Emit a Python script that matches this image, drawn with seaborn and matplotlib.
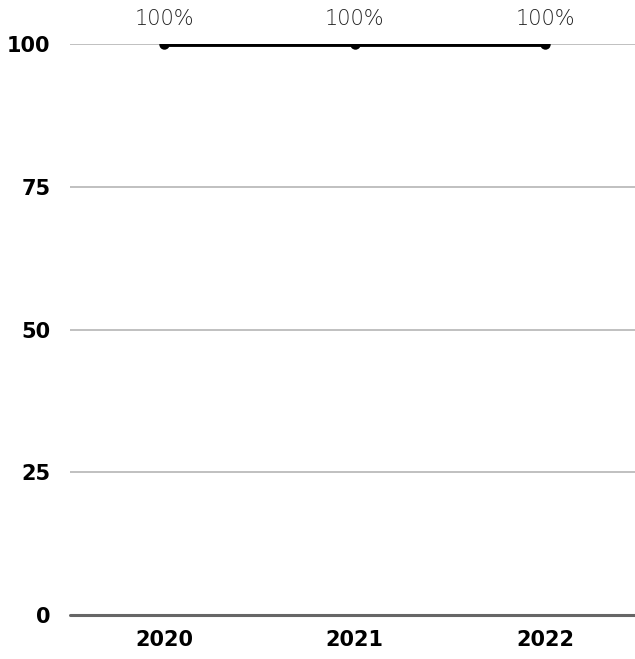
import matplotlib
matplotlib.use("Agg")
import matplotlib.pyplot as plt
import seaborn as sns
import pandas as pd

years = ["2020", "2021", "2022"]
values = [100, 100, 100]
labels = ["100%", "100%", "100%"]
yticks = [0, 25, 50, 75, 100]

sns.set_theme(style="white")
plt.rcParams['font.family'] = ['DejaVu Sans']

df = pd.DataFrame({"year": years, "value": values})

fig = plt.figure(figsize=(6.35, 6.59), dpi=100)
ax = fig.add_axes([70/635, 44/659, 1 - 70/635, (615-44)/659])

sns.lineplot(data=df, x="year", y="value", ax=ax, color="black", linewidth=3.5,
             marker="o", markersize=7.5, markeredgewidth=0, sort=False, zorder=5)

ax.set_ylim(0, 100)
ax.set_xlim(-0.493, 2.472)
ax.set_yticks(yticks)
ax.set_yticklabels([str(t) for t in yticks])
for t in yticks[1:]:
    ax.axhline(t, color="#bbbbbb", linewidth=1.3, zorder=1)
ax.axhline(0, color="#666666", linewidth=2.2, zorder=2, clip_on=False)

for s in ax.spines.values():
    s.set_visible(False)
ax.tick_params(axis="both", length=0)
ax.tick_params(axis="y", pad=14)
ax.tick_params(axis="x", pad=11)
for lab in ax.get_yticklabels() + ax.get_xticklabels():
    lab.set_fontweight("bold")
    lab.set_fontsize(15)
    lab.set_color("black")
ax.set_xlabel("")
ax.set_ylabel("")

for i, (v, l) in enumerate(zip(values, labels)):
    ax.annotate(l, (i, v), xytext=(0, 11), textcoords="offset points",
                ha="center", va="bottom", fontsize=15, fontweight="light",
                family="DejaVu Sans", color="#222222", annotation_clip=False)

fig.savefig("out.png", dpi=100)
